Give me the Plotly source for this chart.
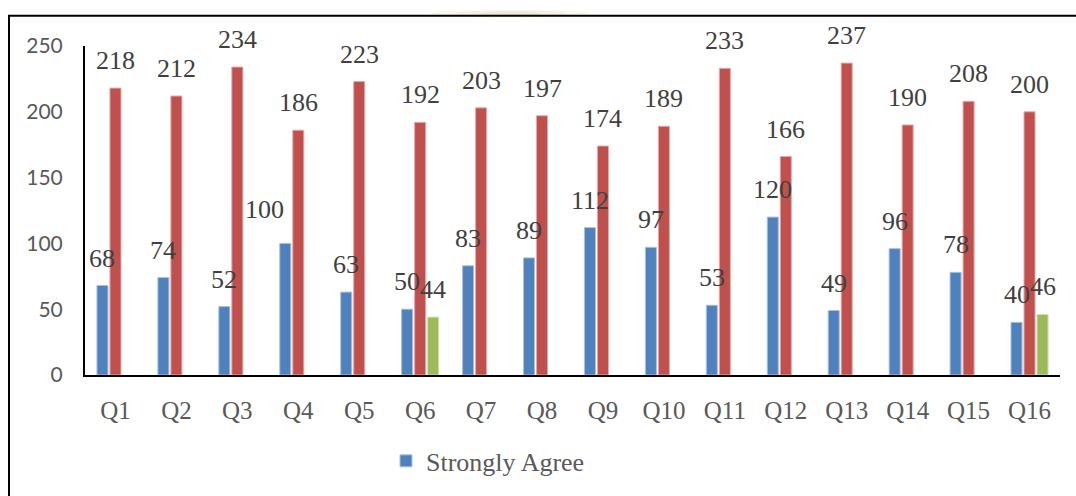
import plotly.graph_objects as go

# ---- data ----
categories = ["Q1", "Q2", "Q3", "Q4", "Q5", "Q6", "Q7", "Q8",
              "Q9", "Q10", "Q11", "Q12", "Q13", "Q14", "Q15", "Q16"]
strongly_agree = [68, 74, 52, 100, 63, 50, 83, 89, 112, 97, 53, 120, 49, 96, 78, 40]
agree = [218, 212, 234, 186, 223, 192, 203, 197, 174, 189, 233, 166, 237, 190, 208, 200]
neutral = [None, None, None, None, None, 44, None, None,
           None, None, None, None, None, None, None, 46]
y_tick_values = [0, 50, 100, 150, 200, 250]

# ---- geometry / style ----
W, H = 1076, 496
L, R, T, B = 85, 16, 46, 117
PW, PH = W - L - R, H - T - B


def px2x(px):
    return (px - L) / PW


def py2y(py):
    return 1 - (py - T) / PH


SERIF = "Liberation Serif"
SANS = "Lato"
BLUE, RED, GREEN = "#4F81BD", "#C0504D", "#9BBB59"

series = [
    ("Strongly Agree", strongly_agree, BLUE, "#a9c1e0", True, -13),
    ("Agree", agree, RED, "#e3aaa8", False, 0),
    ("Neutral", neutral, GREEN, "#d0e2b0", False, 13),
]

fig = go.Figure()
for name, vals, col, edge, show, _ in series:
    fig.add_trace(go.Bar(
        x=categories, y=vals, name=name, showlegend=show,
        marker=dict(color=col, line=dict(color=edge, width=1)),
    ))

# label nudges (style only): Q4 blue label moved left/up in the original
nudges = {("Strongly Agree", "Q4"): (-21, 6)}

annotations = []
for name, vals, col, edge, show, off in series:
    for cat, v in zip(categories, vals):
        if v is None:
            continue
        dx, dy = nudges.get((name, cat), (0, 0))
        annotations.append(dict(
            x=cat, y=v, xref="x", yref="y", text=str(v), showarrow=False,
            xanchor="center", yanchor="bottom", xshift=off + dx, yshift=11 + dy,
            font=dict(family=SERIF, size=26, color="#404040"),
        ))

shapes = [
    # outer frame (left and top edges visible)
    dict(type="line", xref="paper", yref="paper",
         x0=px2x(9), x1=px2x(9), y0=py2y(15), y1=py2y(510),
         line=dict(color="black", width=2)),
    dict(type="line", xref="paper", yref="paper",
         x0=px2x(8), x1=px2x(1090), y0=py2y(15.5), y1=py2y(15.5),
         line=dict(color="black", width=2)),
]
# faint decorative glow just above the top frame line
for (x0, x1, y0, y1, op) in [(430, 590, 9, 17, 0.18), (455, 565, 10, 16, 0.25), (480, 540, 11, 16, 0.3)]:
    shapes.append(dict(type="circle", xref="paper", yref="paper",
                       x0=px2x(x0), x1=px2x(x1), y0=py2y(y1), y1=py2y(y0),
                       fillcolor="#e6d7ae", opacity=op, line=dict(width=0), layer="below"))

fig.update_layout(
    width=W, height=H,
    margin=dict(l=L, r=R, t=T, b=B),
    paper_bgcolor="white", plot_bgcolor="white",
    barmode="group", bargap=0.36, bargroupgap=0.15,
    showlegend=True,
    legend=dict(orientation="h", x=px2x(386), xanchor="left", y=py2y(466), yanchor="middle",
                font=dict(family=SERIF, size=26, color="#595959"),
                bgcolor="rgba(0,0,0,0)"),
    xaxis=dict(
        type="category", range=[-0.5, 15.5],
        showline=True, linecolor="black", linewidth=2,
        showgrid=False, ticks="", ticklabelstandoff=12,
        tickfont=dict(family=SERIF, size=25, color="#595959"),
    ),
    yaxis=dict(
        range=[0, 250], tickvals=y_tick_values,
        showline=True, linecolor="black", linewidth=2,
        showgrid=False, zeroline=False, ticks="", ticklabelstandoff=16,
        tickfont=dict(family=SANS, size=21, color="#595959"),
    ),
    annotations=annotations,
    shapes=shapes,
)

fig.write_html("out.html")
